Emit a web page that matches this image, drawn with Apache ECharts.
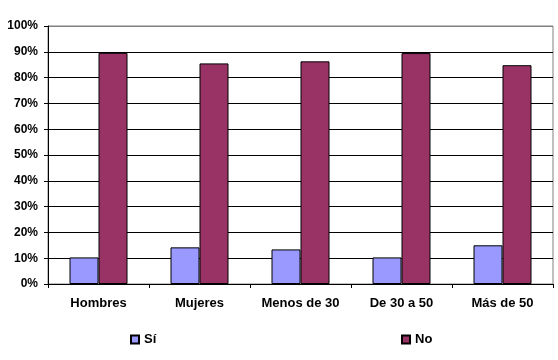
<!DOCTYPE html>
<html><head><meta charset="utf-8">
<script src="https://cdn.jsdelivr.net/npm/echarts@6/dist/echarts.min.js"></script>
<style>html,body{margin:0;padding:0;background:#fff}#c{width:558px;height:360px}</style>
</head><body><div id="c"></div>
<script>
const categories = ['Hombres', 'Mujeres', 'Menos de 30', 'De 30 a 50', 'Más de 50'];
const si = [10.3, 14.2, 13.4, 10.3, 15.0];
const no = [89.6, 85.5, 86.3, 89.5, 84.8];
const yTicks = [0, 10, 20, 30, 40, 50, 60, 70, 80, 90, 100];

const chart = echarts.init(document.getElementById('c'), null, {renderer: 'canvas'});
const font = {fontFamily: 'Liberation Sans, Arial, sans-serif', fontWeight: 'bold', fontSize: 12, color: '#000'};
const gridColors = yTicks.map((v, i) => i === yTicks.length - 1 ? '#808080' : '#000');
chart.setOption({
  animation: false,
  backgroundColor: '#fff',
  grid: {left: 48, right: 5, top: 26, bottom: 76, show: true, borderColor: '#808080', borderWidth: 1, backgroundColor: 'transparent'},
  legend: [
    {data: ['Sí'], left: 130, top: 333, padding: 0, itemWidth: 8, itemHeight: 8, itemGap: 4, icon: 'rect',
     textStyle: Object.assign({}, font, {fontSize: 13}), selectedMode: false},
    {data: ['No'], left: 401, top: 333, padding: 0, itemWidth: 8, itemHeight: 8, itemGap: 4, icon: 'rect',
     textStyle: Object.assign({}, font, {fontSize: 13}), selectedMode: false}
  ],
  xAxis: {
    type: 'category', data: categories,
    axisLine: {lineStyle: {color: '#000', width: 1}},
    axisTick: {show: true, length: 4, lineStyle: {color: '#000'}},
    axisLabel: Object.assign({margin: 13, interval: 0}, font, {fontSize: 13}),
    splitLine: {show: false}
  },
  yAxis: {
    type: 'value', min: yTicks[0], max: yTicks[yTicks.length - 1], interval: 10,
    axisLine: {show: true, lineStyle: {color: '#000', width: 1}},
    axisTick: {show: true, length: 4, lineStyle: {color: '#000'}},
    axisLabel: Object.assign({margin: 10, formatter: v => v + '%'}, font),
    splitLine: {show: true, lineStyle: {color: gridColors, width: 1}}
  },
  series: [
    {name: 'Sí', type: 'bar', data: si, barWidth: 29, barGap: '0%',
     itemStyle: {color: '#9999FF', borderColor: '#000', borderWidth: 1}},
    {name: 'No', type: 'bar', data: no, barWidth: 29, barGap: '0%',
     itemStyle: {color: '#993366', borderColor: '#000', borderWidth: 1}}
  ]
});
</script></body></html>
